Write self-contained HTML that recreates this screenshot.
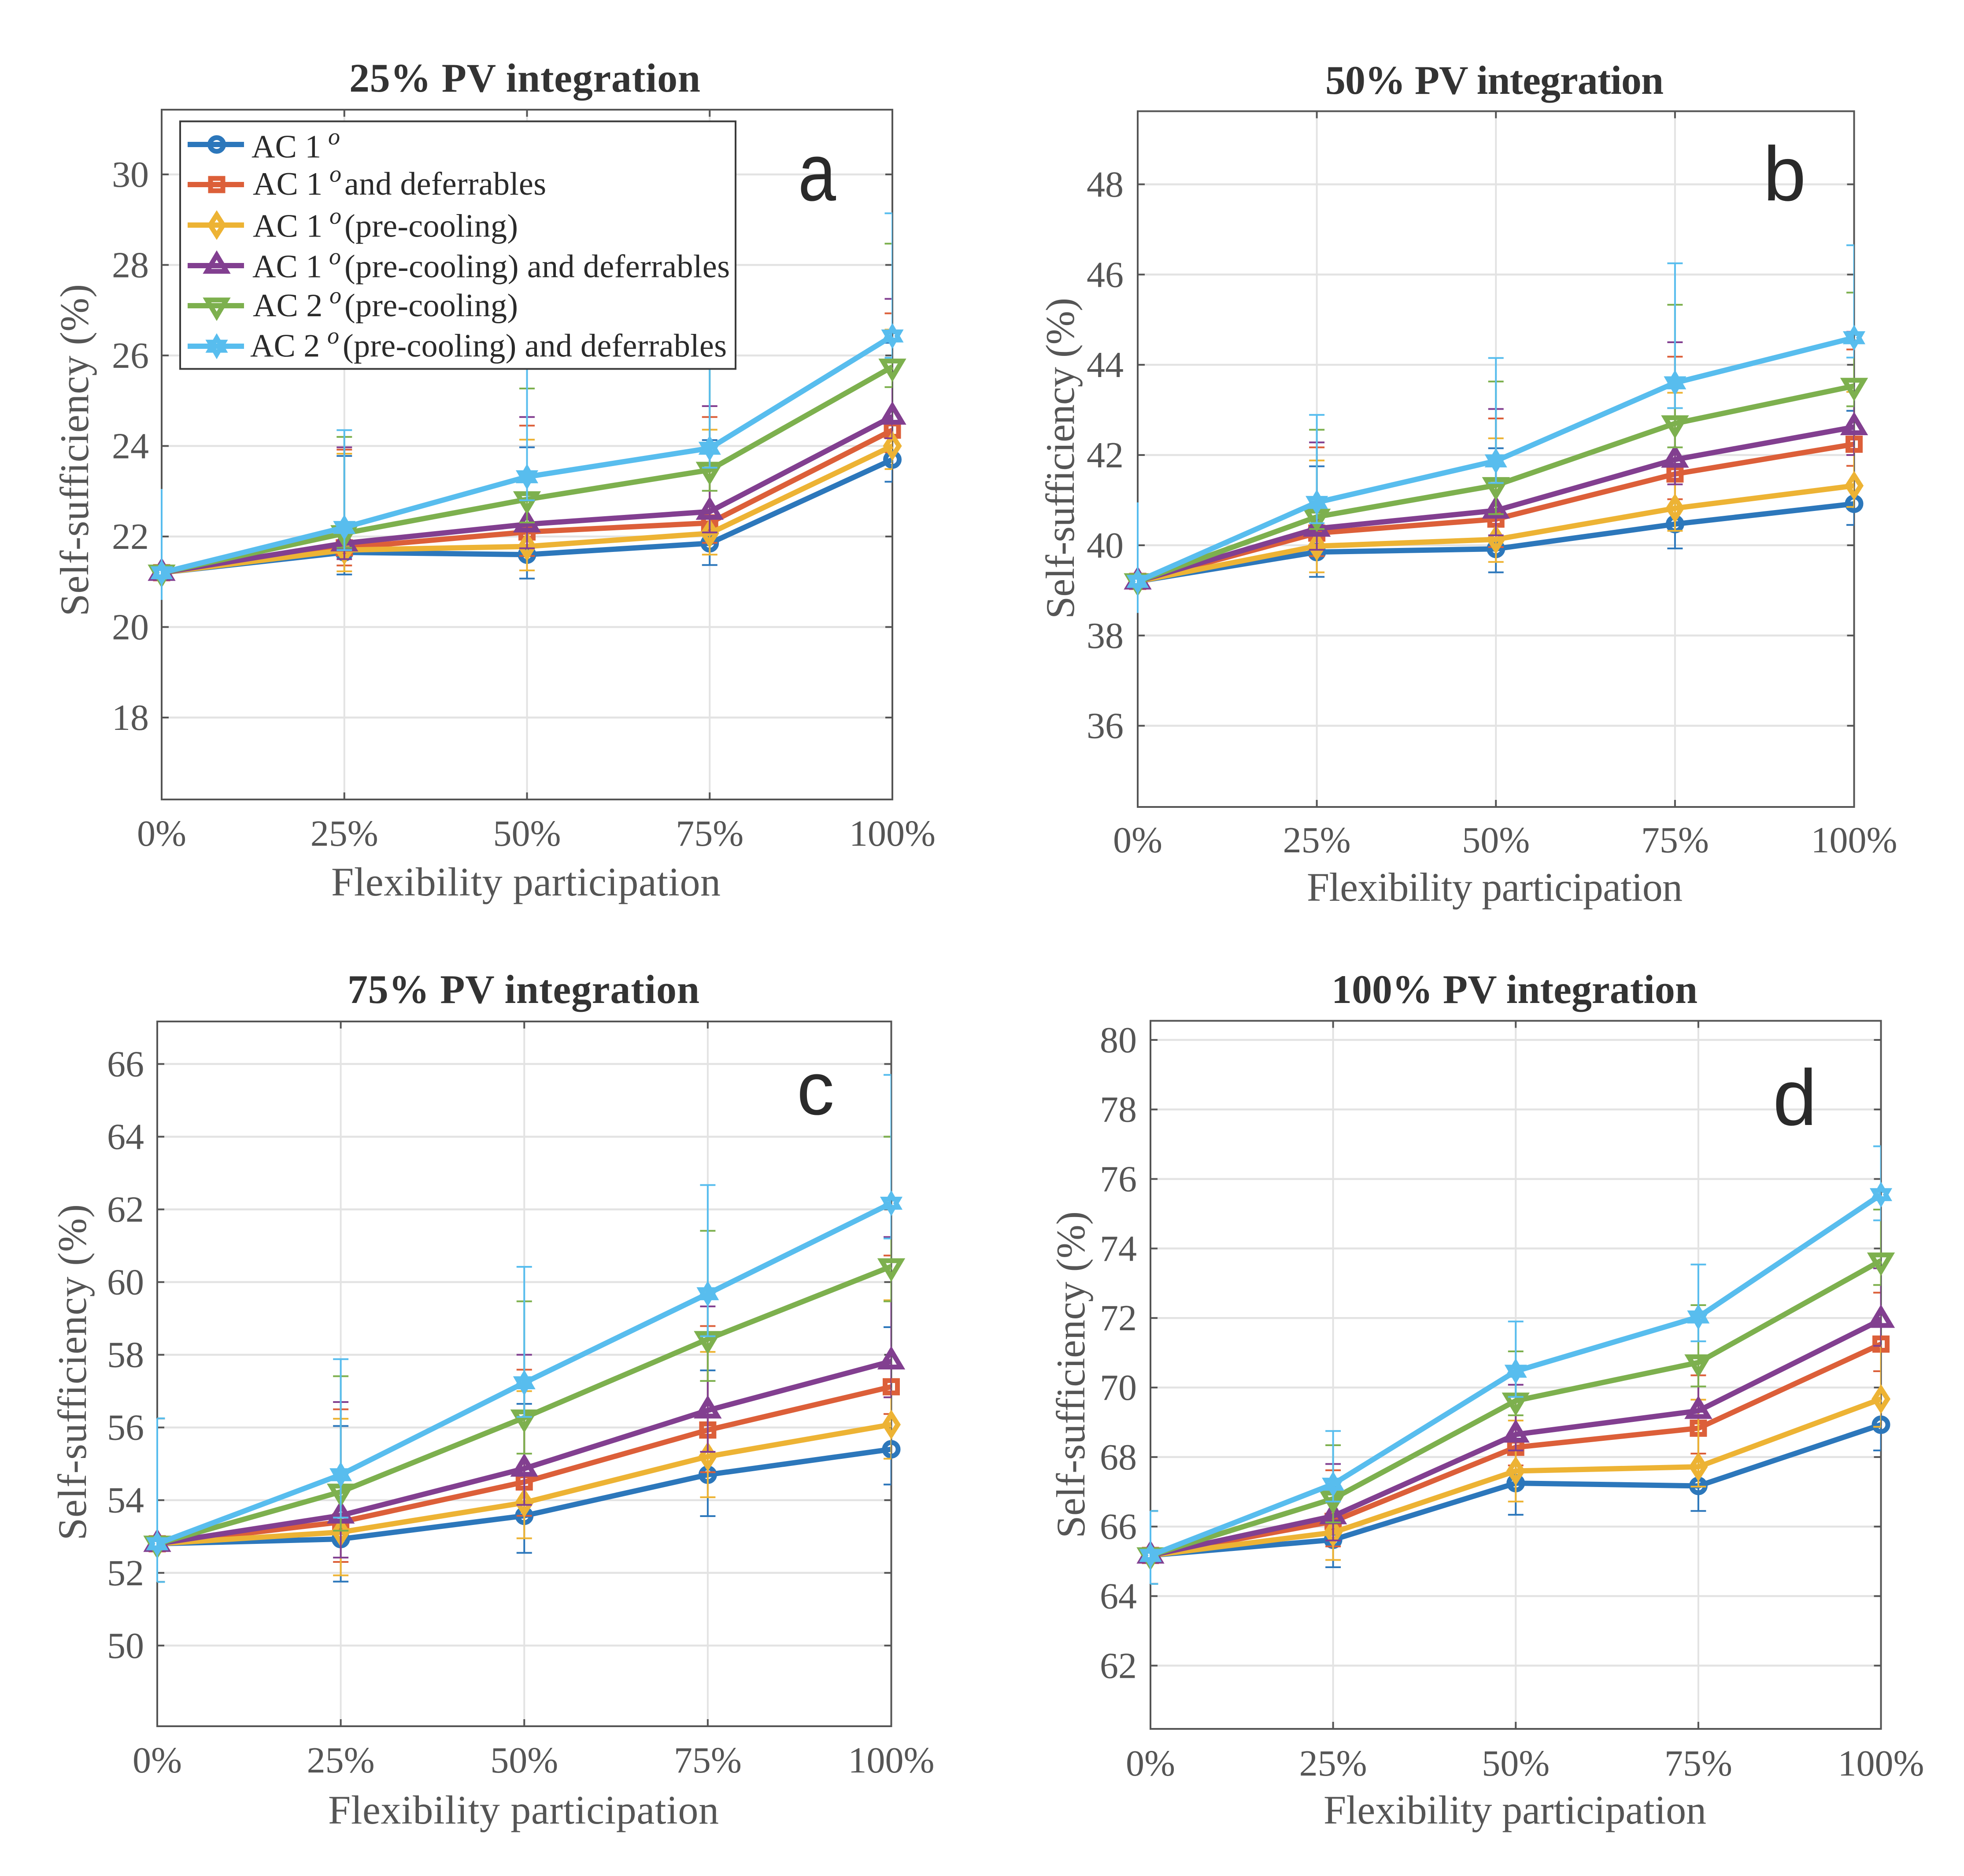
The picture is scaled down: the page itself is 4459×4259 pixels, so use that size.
<!DOCTYPE html>
<html lang="en">
<head>
<meta charset="utf-8">
<title>Self-sufficiency vs flexibility participation</title>
<style>
html,body{margin:0;padding:0;background:#fff;}
svg{display:block;}
text{font-family:"Liberation Serif",serif;}
.title{font-size:92px;font-weight:bold;fill:#333;}
.axis-label{font-size:92px;fill:#555;}
.tick-label{font-size:84px;fill:#555;}
.legend-text{font-size:74px;fill:#2a2a2a;}
.legend-deg{font-size:54px;font-style:italic;fill:#2a2a2a;}
.panel-letter{font-family:"Liberation Sans",sans-serif;fill:#2a2a2a;}
</style>
</head>
<body>
<svg xmlns="http://www.w3.org/2000/svg" width="4459" height="4259" viewBox="0 0 4459 4259">
<rect x="0" y="0" width="4459" height="4259" fill="#fff"/>
<defs id="clip-defs"></defs>

<g id="panel-a">
  <g id="plot-a"></g>
  <text class="title" x="793" y="208" textLength="797">25% PV integration</text>
  <text class="axis-label" x="752" y="2033" textLength="884">Flexibility participation</text>
  <text class="axis-label" x="200" y="1399" textLength="754" transform="rotate(-90 200 1399)">Self-sufficiency (%)</text>
  <text class="panel-letter" x="1812" y="455" font-size="185" textLength="86" lengthAdjust="spacingAndGlyphs">a</text>
</g>

<g id="panel-b">
  <g id="plot-b"></g>
  <text class="title" x="3009" y="213" textLength="768">50% PV integration</text>
  <text class="axis-label" x="2967" y="2045" textLength="853">Flexibility participation</text>
  <text class="axis-label" x="2438" y="1405" textLength="729" transform="rotate(-90 2438 1405)">Self-sufficiency (%)</text>
  <text class="panel-letter" x="4003" y="455" font-size="175">b</text>
</g>

<g id="panel-c">
  <g id="plot-c"></g>
  <text class="title" x="789" y="2277" textLength="799">75% PV integration</text>
  <text class="axis-label" x="745" y="4140" textLength="887">Flexibility participation</text>
  <text class="axis-label" x="195" y="3497" textLength="763" transform="rotate(-90 195 3497)">Self-sufficiency (%)</text>
  <text class="panel-letter" x="1809" y="2530" font-size="170">c</text>
</g>

<g id="panel-d">
  <g id="plot-d"></g>
  <text class="title" x="3023" y="2277" textLength="831">100% PV integration</text>
  <text class="axis-label" x="3005" y="4140" textLength="869">Flexibility participation</text>
  <text class="axis-label" x="2462" y="3492" textLength="742" transform="rotate(-90 2462 3492)">Self-sufficiency (%)</text>
  <text class="panel-letter" x="4025" y="2554" font-size="180">d</text>
</g>

<g id="legend">
  <rect x="409" y="275.5" width="1261" height="562" fill="#fff" stroke="#3a3a3a" stroke-width="4"/>
  <g id="legend-keys"></g>
  <g>
    <text class="legend-text" x="571" y="357.5">AC 1</text>
    <text class="legend-deg" x="745" y="328">o</text>
  </g>
  <g>
    <text class="legend-text" x="574" y="442">AC 1</text>
    <text class="legend-deg" x="748" y="412.5">o</text>
    <text class="legend-text" x="782" y="442" textLength="458">and deferrables</text>
  </g>
  <g>
    <text class="legend-text" x="574" y="537.5">AC 1</text>
    <text class="legend-deg" x="748" y="508">o</text>
    <text class="legend-text" x="782" y="537.5" textLength="394">(pre-cooling)</text>
  </g>
  <g>
    <text class="legend-text" x="573" y="629.5">AC 1</text>
    <text class="legend-deg" x="747" y="600">o</text>
    <text class="legend-text" x="782" y="629.5" textLength="875">(pre-cooling) and deferrables</text>
  </g>
  <g>
    <text class="legend-text" x="574" y="718">AC 2</text>
    <text class="legend-deg" x="748" y="688.5">o</text>
    <text class="legend-text" x="782" y="718" textLength="394">(pre-cooling)</text>
  </g>
  <g>
    <text class="legend-text" x="568" y="809.5">AC 2</text>
    <text class="legend-deg" x="743" y="780">o</text>
    <text class="legend-text" x="778" y="809.5" textLength="872">(pre-cooling) and deferrables</text>
  </g>
</g>
</svg>

<script>
/* ---------- chart data ---------- */
const participation = [0, 25, 50, 75, 100];
const xTickLabels = ['0%', '25%', '50%', '75%', '100%'];
const seriesIds = ['ac1', 'ac1-deferrables', 'ac1-precooling', 'ac1-precooling-deferrables', 'ac2-precooling', 'ac2-precooling-deferrables'];

const yTicksA = [18, 20, 22, 24, 26, 28, 30];
const yTicksB = [36, 38, 40, 42, 44, 46, 48];
const yTicksC = [50, 52, 54, 56, 58, 60, 62, 64, 66];
const yTicksD = [62, 64, 66, 68, 70, 72, 74, 76, 78, 80];

/* panel a: 25% PV */
const meanA = [
  [21.2, 21.65, 21.6, 21.85, 23.7],
  [21.2, 21.75, 22.1, 22.3, 24.35],
  [21.2, 21.7, 21.78, 22.07, 24.0],
  [21.2, 21.85, 22.27, 22.55, 24.65],
  [21.2, 22.07, 22.82, 23.47, 25.75],
  [21.2, 22.2, 23.32, 23.95, 26.43]
];
const lowA = [
  [20.6, 21.16, 21.07, 21.37, 23.21],
  [20.6, 21.36, 21.57, 21.86, 23.86],
  [20.6, 21.23, 21.25, 21.6, 23.49],
  [20.6, 21.5, 21.74, 22.09, 24.17],
  [20.6, 21.75, 22.31, 23.01, 25.3],
  [20.6, 21.7, 22.8, 23.52, 25.95]
];
const highA = [
  [23.05, 23.78, 23.97, 24.13, 26.28],
  [23.05, 23.92, 24.45, 24.64, 26.93],
  [23.05, 23.83, 24.14, 24.36, 26.57],
  [23.05, 23.97, 24.64, 24.88, 27.25],
  [23.05, 24.2, 25.27, 25.9, 28.47],
  [23.05, 24.35, 26.0, 26.6, 29.14]
];

/* panel b: 50% PV */
const meanB = [
  [39.2, 39.85, 39.92, 40.47, 40.92],
  [39.2, 40.27, 40.58, 41.58, 42.24],
  [39.2, 39.98, 40.13, 40.82, 41.32],
  [39.2, 40.37, 40.77, 41.9, 42.62],
  [39.2, 40.63, 41.33, 42.7, 43.53],
  [39.2, 40.95, 41.87, 43.6, 44.6]
];
const lowB = [
  [38.5, 39.3, 39.4, 39.93, 40.45],
  [38.5, 39.76, 39.96, 41.02, 41.76],
  [38.5, 39.4, 39.63, 40.32, 40.85],
  [38.5, 39.9, 40.22, 41.35, 42.0],
  [38.5, 40.36, 40.69, 42.17, 43.08],
  [38.5, 40.49, 41.38, 43.04, 44.16]
];
const highB = [
  [40.95, 41.75, 42.15, 43.04, 42.98],
  [40.95, 42.17, 42.81, 44.18, 44.34],
  [40.95, 41.88, 42.37, 43.38, 43.4],
  [40.95, 42.28, 43.02, 44.5, 44.73],
  [40.95, 42.56, 43.63, 45.33, 45.6],
  [40.95, 42.89, 44.15, 46.25, 46.65]
];

/* panel c: 75% PV */
const meanC = [
  [52.8, 52.93, 53.57, 54.7, 55.4],
  [52.8, 53.4, 54.5, 55.93, 57.12],
  [52.8, 53.12, 53.93, 55.2, 56.08],
  [52.8, 53.58, 54.87, 56.47, 57.82],
  [52.8, 54.23, 56.27, 58.43, 60.43],
  [52.8, 54.7, 57.23, 59.68, 62.17]
];
const lowC = [
  [51.75, 51.76, 52.55, 53.56, 54.43],
  [51.75, 52.3, 53.57, 54.77, 56.37],
  [51.75, 51.93, 52.95, 54.08, 55.14],
  [51.75, 52.42, 53.87, 55.33, 56.83],
  [51.75, 53.16, 55.28, 57.28, 59.47],
  [51.75, 53.52, 56.29, 58.51, 61.2]
];
const highC = [
  [56.25, 56.04, 56.65, 57.57, 58.76],
  [56.25, 56.5, 57.59, 58.79, 60.73],
  [56.25, 56.24, 57.0, 58.08, 59.5],
  [56.25, 56.7, 58.0, 59.33, 61.24],
  [56.25, 57.41, 59.47, 61.41, 64.0],
  [56.25, 57.88, 60.42, 62.67, 65.7]
];

/* panel d: 100% PV */
const meanD = [
  [65.17, 65.62, 67.25, 67.17, 68.93],
  [65.17, 66.15, 68.28, 68.83, 71.25],
  [65.17, 65.83, 67.6, 67.72, 69.67],
  [65.17, 66.3, 68.65, 69.33, 71.95],
  [65.17, 66.8, 69.62, 70.72, 73.65],
  [65.17, 67.22, 70.47, 72.03, 75.55]
];
const lowD = [
  [64.35, 64.83, 66.34, 66.45, 68.19],
  [64.35, 65.43, 67.76, 68.1, 70.47],
  [64.35, 65.04, 66.72, 67.15, 68.87],
  [64.35, 65.6, 68.19, 69.3, 71.2],
  [64.35, 66.12, 69.2, 70.03, 72.95],
  [64.35, 66.72, 69.73, 71.33, 74.81]
];
const highD = [
  [66.45, 67.15, 68.53, 69.2, 71.2],
  [66.45, 67.62, 69.73, 70.35, 72.73],
  [66.45, 67.32, 69.05, 69.65, 71.97],
  [66.45, 67.8, 70.08, 70.89, 73.43],
  [66.45, 68.34, 71.04, 72.37, 75.12],
  [66.45, 68.75, 71.9, 73.54, 76.94]
];

/* ---------- styling and layout ---------- */
const seriesColors = ['#2c77bb', '#dc5f39', '#edb334', '#823f90', '#7db04e', '#58bdee'];
const markerKinds = ['circle', 'square', 'diamond', 'up', 'down', 'star'];
const legendRows = [328, 419, 511, 603, 694, 786];

const panels = [
  {id: 'a', left: 367, right: 2026, top: 249, bottom: 1815, yMin: 16.19, yMax: 31.43, ticks: yTicksA, mean: meanA, low: lowA, high: highA, tickRight: 338, xBase: 1920, capsAtStart: false},
  {id: 'b', left: 2583, right: 4209.5, top: 252.5, bottom: 1832, yMin: 34.2, yMax: 49.62, ticks: yTicksB, mean: meanB, low: lowB, high: highB, tickRight: 2551, xBase: 1935, capsAtStart: false},
  {id: 'c', left: 357, right: 2023.5, top: 2319, bottom: 3919, yMin: 47.78, yMax: 67.17, ticks: yTicksC, mean: meanC, low: lowC, high: highC, tickRight: 327, xBase: 4024, capsAtStart: true},
  {id: 'd', left: 2612, right: 4270.5, top: 2317.5, bottom: 3925, yMin: 60.18, yMax: 80.55, ticks: yTicksD, mean: meanD, low: lowD, high: highD, tickRight: 2581, xBase: 4031, capsAtStart: true}
];

const NS = 'http://www.w3.org/2000/svg';
function make(tag, attrs, parent) {
  const node = document.createElementNS(NS, tag);
  for (const key in attrs) node.setAttribute(key, attrs[key]);
  parent.appendChild(node);
  return node;
}

function markerPoints(kind) {
  if (kind === 'diamond') return '0,-23.5 15,0 0,23.5 -15,0';
  if (kind === 'up') return '0,-24 22,13 -22,13';
  if (kind === 'down') return '0,24 22,-13 -22,-13';
  const pts = [];
  for (let i = 0; i < 12; i++) {
    const r = i % 2 === 0 ? 18.5 : 10.7;
    const ang = -Math.PI / 2 + i * Math.PI / 6;
    pts.push((r * Math.cos(ang)).toFixed(2) + ',' + (r * Math.sin(ang)).toFixed(2));
  }
  return pts.join(' ');
}

function drawMarker(parent, kind, color, cx, cy) {
  let mark;
  const base = {fill: 'none', stroke: color, 'stroke-width': 11};
  if (kind === 'circle') {
    mark = make('circle', Object.assign({cx: cx, cy: cy, r: 15.5}, base), parent);
  } else if (kind === 'square') {
    mark = make('rect', Object.assign({x: cx - 14, y: cy - 14, width: 28, height: 28}, base), parent);
  } else {
    mark = make('polygon', Object.assign({points: markerPoints(kind), transform: 'translate(' + cx + ' ' + cy + ')', 'stroke-miterlimit': 6}, base), parent);
  }
  
  
  return mark;
}

const clipDefs = document.getElementById('clip-defs');

panels.forEach(function (p) {
  const root = document.getElementById('plot-' + p.id);
  const xScale = function (v) { return p.left + (v - participation[0]) / (participation[participation.length - 1] - participation[0]) * (p.right - p.left); };
  const yScale = function (v) { return p.bottom - (v - p.yMin) / (p.yMax - p.yMin) * (p.bottom - p.top); };

  const clip = make('clipPath', {id: 'clip-' + p.id}, clipDefs);
  make('rect', {x: p.left, y: p.top, width: p.right - p.left, height: p.bottom - p.top}, clip);

  /* grid */
  p.ticks.forEach(function (t) {
    const line = make('line', {x1: p.left, x2: p.right, y1: yScale(t), y2: yScale(t), stroke: '#e3e3e3', 'stroke-width': 4.5}, root);
    
    
  });
  participation.forEach(function (v) {
    const line = make('line', {x1: xScale(v), x2: xScale(v), y1: p.top, y2: p.bottom, stroke: '#e3e3e3', 'stroke-width': 4}, root);
    
    
  });

  /* frame and ticks */
  const frame = make('rect', {x: p.left, y: p.top, width: p.right - p.left, height: p.bottom - p.top, fill: 'none', stroke: '#555', 'stroke-width': 4}, root);
  
  

  p.ticks.forEach(function (t) {
    const y = yScale(t);
    const leftTick = make('line', {x1: p.left, x2: p.left + 16, y1: y, y2: y, stroke: '#555', 'stroke-width': 4}, root);
    
    
    const rightTick = make('line', {x1: p.right - 16, x2: p.right, y1: y, y2: y, stroke: '#555', 'stroke-width': 4}, root);
    
    
    const label = make('text', {x: p.tickRight, y: y + 28, 'text-anchor': 'end', class: 'tick-label'}, root);
    
    
    label.textContent = String(t);
  });
  participation.forEach(function (v, i) {
    const x = xScale(v);
    const bottomTick = make('line', {x1: x, x2: x, y1: p.bottom - 16, y2: p.bottom, stroke: '#555', 'stroke-width': 4}, root);
    
    
    const topTick = make('line', {x1: x, x2: x, y1: p.top, y2: p.top + 16, stroke: '#555', 'stroke-width': 4}, root);
    
    
    const label = make('text', {x: x, y: p.xBase, 'text-anchor': 'middle', class: 'tick-label'}, root);
    
    
    label.textContent = xTickLabels[i];
  });

  /* series */
  p.mean.forEach(function (values, s) {
    const color = seriesColors[s];
    const group = make('g', {}, root);
    
    
    const clipped = make('g', {'clip-path': 'url(#clip-' + p.id + ')'}, group);

    participation.forEach(function (v, i) {
      const x = xScale(v);
      const yLow = yScale(p.low[s][i]);
      const yHigh = yScale(p.high[s][i]);
      const stem = make('line', {x1: x, x2: x, y1: yLow, y2: yHigh, stroke: color, 'stroke-width': 4}, i === 0 ? group : clipped);
      
      
      if (i > 0 || p.capsAtStart) {
        const capLow = make('line', {x1: x - 17.5, x2: x + 17.5, y1: yLow, y2: yLow, stroke: color, 'stroke-width': 4}, clipped);
        
        
        const capHigh = make('line', {x1: x - 17.5, x2: x + 17.5, y1: yHigh, y2: yHigh, stroke: color, 'stroke-width': 4}, clipped);
        
        
      }
    });

    const pts = values.map(function (val, i) { return xScale(participation[i]).toFixed(1) + ',' + yScale(val).toFixed(1); }).join(' ');
    const path = make('polyline', {points: pts, fill: 'none', stroke: color, 'stroke-width': 12, 'stroke-linejoin': 'round'}, group);
    
    

    values.forEach(function (val, i) {
      drawMarker(group, markerKinds[s], color, xScale(participation[i]), yScale(val));
    });
  });
});

/* legend keys */
const legendKeys = document.getElementById('legend-keys');
seriesColors.forEach(function (color, s) {
  const y = legendRows[s];
  const line = make('line', {x1: 426, x2: 554, y1: y, y2: y, stroke: color, 'stroke-width': 12}, legendKeys);
  
  
  drawMarker(legendKeys, markerKinds[s], color, 492, y);
});
</script>
</body>
</html>
